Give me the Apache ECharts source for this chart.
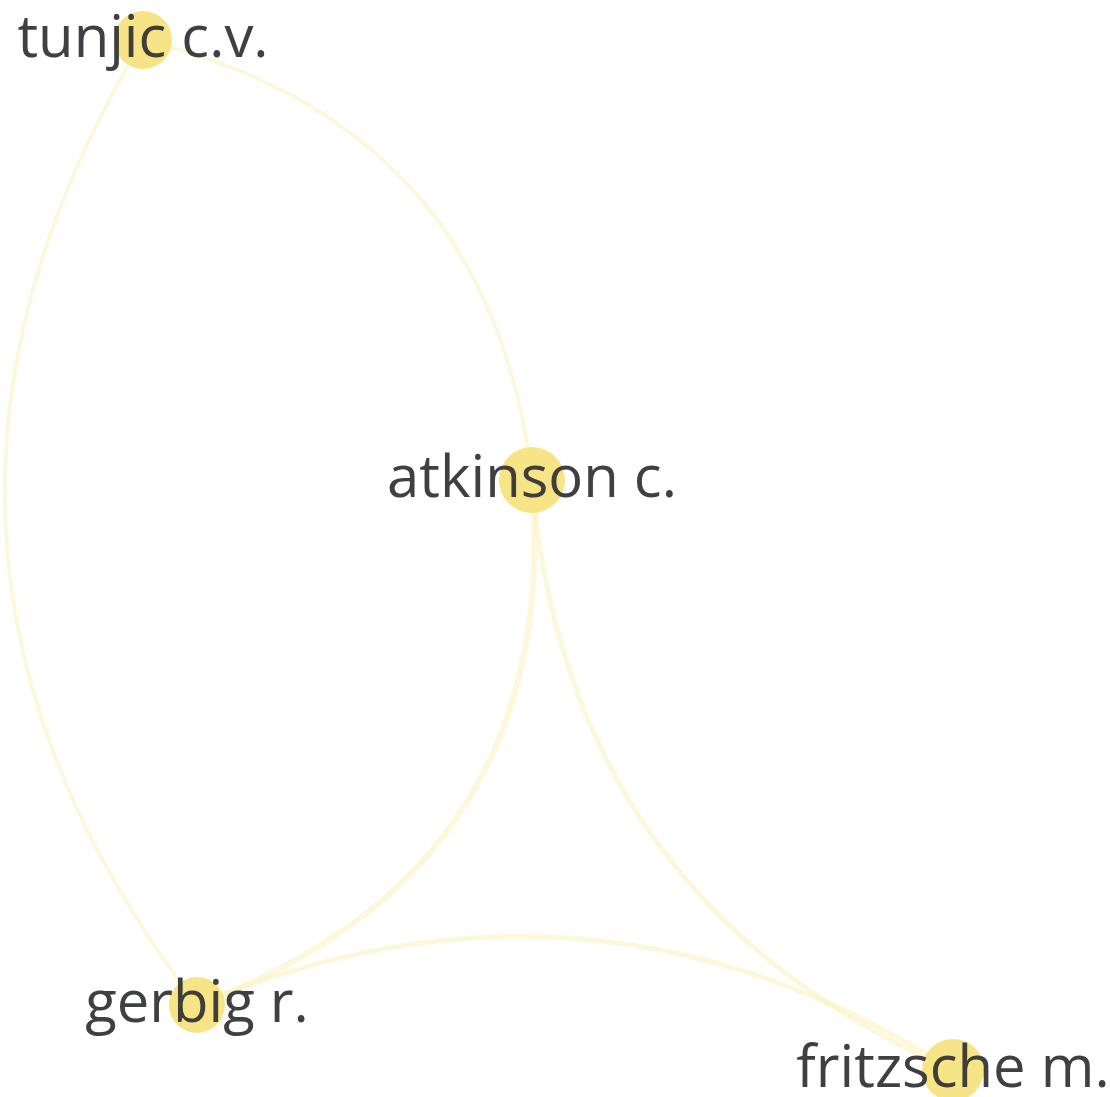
<!DOCTYPE html>
<html>
<head>
<meta charset="utf-8">
<script src="https://cdn.jsdelivr.net/npm/echarts@6/dist/echarts.min.js"></script>
<style>
  html, body { margin: 0; padding: 0; background: #fff; }
  #map { width: 1110px; height: 1097px; }
</style>
</head>
<body>
<div id="map"></div>
<script>
  // author names and their map positions
  const authors = ['tunjic c.v.', 'atkinson c.', 'gerbig r.', 'fritzsche m.']
  const posX = [143, 532, 197, 953]
  const posY = [40, 480, 1005, 1070]
  const weight = [29, 33, 28, 31]

  // co-authorship links
  const linkSource = ['tunjic c.v.', 'tunjic c.v.', 'atkinson c.', 'atkinson c.', 'gerbig r.']
  const linkTarget = ['atkinson c.', 'gerbig r.', 'gerbig r.', 'fritzsche m.', 'fritzsche m.']
  const linkBend = [0.35, -0.34, 0.38, -0.3, 0.26]
  const linkStrength = [4, 4, 6, 5, 5]

  const chart = echarts.init(document.getElementById('map'))

  const option = {
    backgroundColor: '#ffffff',
    animation: false,
    grid: { left: 0, right: 0, top: 0, bottom: 0 },
    xAxis: { type: 'value', min: 0, max: 1110, show: false },
    yAxis: { type: 'value', min: 0, max: 1097, inverse: true, show: false },
    series: [{
      type: 'graph',
      coordinateSystem: 'cartesian2d',
      layout: 'none',
      z: 2,
      data: authors.map((name, i) => ({
        name,
        value: [posX[i], posY[i]],
        symbolSize: weight[i] * 2
      })),
      links: linkSource.map((s, i) => ({
        source: s,
        target: linkTarget[i],
        lineStyle: { curveness: linkBend[i], width: linkStrength[i] }
      })),
      itemStyle: { color: '#f6e27c', opacity: 0.92 },
      lineStyle: { color: '#fcf2c0', opacity: 0.55 },
      label: {
        show: true,
        position: 'inside',
        fontFamily: 'Open Sans',
        fontSize: 58,
        color: '#2f3033',
        formatter: '{b}'
      },
      emphasis: { disabled: true }
    }]
  }
  chart.setOption(option)
</script>
</body>
</html>
